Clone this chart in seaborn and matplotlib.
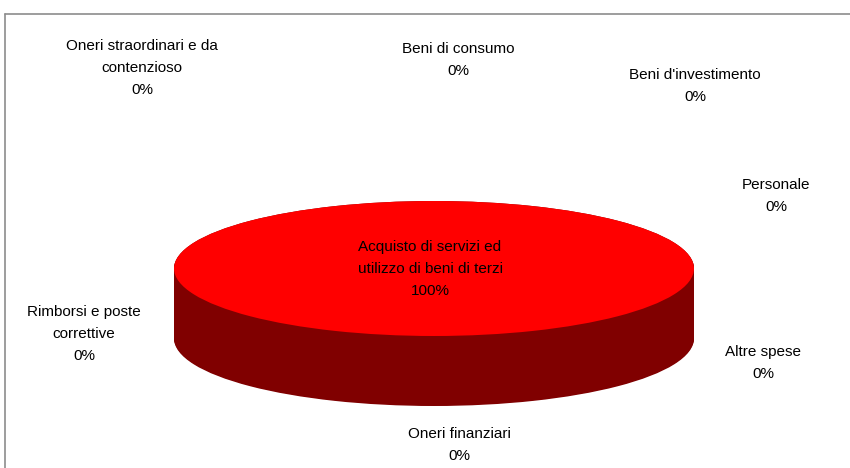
import numpy as np
import matplotlib
matplotlib.use("Agg")
import matplotlib.pyplot as plt
import seaborn as sns

# ---- data ----
categories = [
    "Beni di consumo",
    "Beni d'investimento",
    "Personale",
    "Altre spese",
    "Oneri finanziari",
    "Acquisto di servizi ed\nutilizzo di beni di terzi",
    "Rimborsi e poste\ncorrettive",
    "Oneri straordinari e da\ncontenzioso",
]
values = [0, 0, 0, 0, 0, 100, 0, 0]
pct_labels = ["0%", "0%", "0%", "0%", "0%", "100%", "0%", "0%"]

sns.set_theme(style="white")
plt.rcParams["font.family"] = ["Liberation Sans", "DejaVu Sans"]

W, H = 850, 468
fig = plt.figure(figsize=(W / 100, H / 100), dpi=100)
fig.patch.set_facecolor("white")

# frame (top and left border visible)
fig.add_artist(plt.Line2D([5 / W, 1.0], [1 - 14 / H, 1 - 14 / H], color="#8c8c8c", lw=1.2))
fig.add_artist(plt.Line2D([5 / W, 5 / W], [1 - 14 / H, 0.0], color="#8c8c8c", lw=1.2))

# pie axes: top ellipse x 174..694, y 201..336 ; side down to 406
left, right, top, bottom = 174, 694, 201, 406
ax = fig.add_axes([left / W, 1 - bottom / H, (right - left) / W, (bottom - top) / H])
semi_h = (336 - 201) / 2
depth = (406 - 336) / semi_h

top_colors = ["#ff0000"] * len(values)
side_colors = ["#800000"] * len(values)

for k in np.linspace(depth, 0.0, 90):
    ax.pie(values, colors=side_colors, center=(0, -k), radius=1,
           startangle=90, counterclock=False,
           wedgeprops=dict(linewidth=0, antialiased=True))
ax.pie(values, colors=top_colors, center=(0, 0), radius=1,
       startangle=90, counterclock=False,
       wedgeprops=dict(linewidth=0, antialiased=True))
ax.set_aspect("auto")
ax.set_xlim(-1, 1)
ax.set_ylim(-1 - depth, 1)
ax.axis("off")

# label positions (pixel centres of first line)
label_pos = {
    "Beni di consumo": (458, 49),
    "Beni d'investimento": (695, 75),
    "Personale": (776, 185),
    "Altre spese": (763, 352),
    "Oneri finanziari": (459, 434),
    "Acquisto di servizi ed\nutilizzo di beni di terzi": (430, 247),
    "Rimborsi e poste\ncorrettive": (84, 312),
    "Oneri straordinari e da\ncontenzioso": (142, 46),
}
line_h = 22
for cat, pct in zip(categories, pct_labels):
    x, y = label_pos[cat]
    lines = cat.split("\n") + [pct]
    for i, ln in enumerate(lines):
        fig.text(x / W, 1 - (y + i * line_h) / H, ln, ha="center", va="center",
                 fontsize=11, color="black")

fig.savefig("out.png", dpi=100)
